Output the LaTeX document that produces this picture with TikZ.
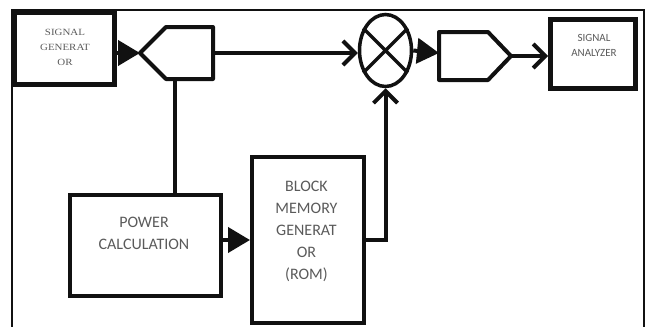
\documentclass[tikz,border=0pt]{standalone}
\usepackage{fontspec}
\setmainfont{Carlito}
\newfontfamily\genfont[FakeStretch=1.15]{Liberation Serif}
\usetikzlibrary{arrows.meta, shapes.geometric}
\definecolor{ink}{HTML}{111111}
\definecolor{label-grey}{HTML}{5A5A5A}

\tikzset{
  blockbox/.style={draw=ink, line width=4pt, minimum width=#1},
  blockbox/.default=100pt,
  pentline/.style={draw=ink, line width=4pt, line join=round},
  wire/.style={draw=ink, line width=4pt},
  solid tip/.style={-{Triangle[length=22pt, width=25pt]}},
  barb tip/.style={-{Straight Barb[length=12pt, width=24pt]}},
  blocktext/.style={text=label-grey, align=center, inner sep=0pt}
}

\begin{document}
\begin{tikzpicture}[x=1pt, y=-1pt]
    \useasboundingbox (0,0) rectangle (646,327);
    \draw[ink, line width=1.6pt] (12,330) |- (644,10) -- (644,330);
    % blocks
    \node[blockbox=100pt, line width=5pt, minimum height=72pt] (GEN) at (64.8,48.2) {};
    \coordinate (SPLtip) at (140,53);
    \coordinate (SPLout) at (213,53);
    \coordinate (SPLfoot) at (175,79);
    \draw[pentline] (SPLtip) -- (166,27) -- (213,27) -- (213,79) -- (166,79) -- cycle;
    \node[draw=ink, line width=3.5pt, ellipse, minimum width=52pt, minimum height=72pt, inner sep=0pt] (MUL) at (385.5,50.5) {};
    \draw[ink, line width=3.5pt] (MUL.45) -- (MUL.225) (MUL.135) -- (MUL.315);
    \coordinate (AMPin) at (439,53);
    \coordinate (AMPtip) at (511,56);
    \draw[pentline] (439,32) -- (488,32) -- (AMPtip) -- (488,80) -- (439,80) -- cycle;
    \node[blockbox=85pt, line width=5pt, minimum height=69pt] (ANA) at (593,54) {};
    \node[blockbox=151pt, minimum height=101pt] (POW) at (145.5,245.5) {};
    \node[blockbox=112pt, minimum height=166pt] (ROM) at (308,240) {};
    % texts
    \node[blocktext, font=\genfont\fontsize{9.5}{15}\selectfont] (GENtext) at (65,47) {SIGNAL\\GENERAT\\OR};
    \node[blocktext, font=\fontsize{11}{15}\selectfont] (ANAtext) at (594,45.5) {SIGNAL\\ANALYZER};
    \node[blocktext, font=\fontsize{16}{22}\selectfont] (POWtext) at (144,233) {POWER\\CALCULATION};
    \node[blocktext, font=\fontsize{16}{22.2}\selectfont] (ROMtext) at (306.5,231.5) {BLOCK\\MEMORY\\GENERAT\\OR\\(ROM)};
    % connectors
    \draw[wire, solid tip] (GEN.east |- SPLtip) -- (SPLtip);
    \draw[wire, barb tip] (SPLout) -- (SPLout -| MUL.west);
    \draw[wire, solid tip] (MUL.east) -- (AMPin);
    \draw[wire, barb tip] (AMPtip) -- (AMPtip -| ANA.west);
    \draw[wire] (SPLfoot) -- (SPLfoot |- POW.north);
    \draw[wire, solid tip] (POW.east |- ROM.west) -- (ROM.west);
    \draw[wire, barb tip] (ROM.east) -| (MUL.south);
  \end{tikzpicture}
\end{document}
